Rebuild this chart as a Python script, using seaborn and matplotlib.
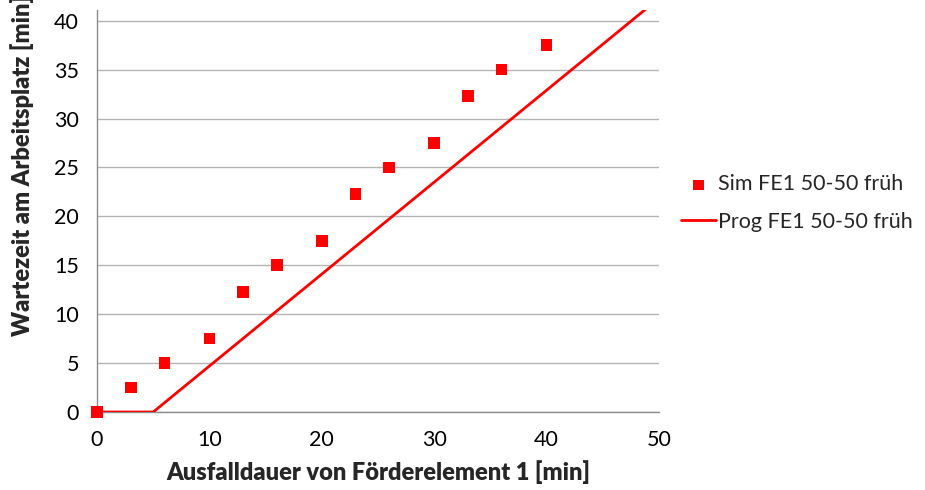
import matplotlib
matplotlib.use("Agg")
import matplotlib.pyplot as plt
from matplotlib.ticker import MultipleLocator
import seaborn as sns
import pandas as pd

# Simulated waiting times
sim_x = [0, 3, 6, 10, 13, 16, 20, 23, 26, 30, 33, 36, 40]
sim_y = [0, 2.5, 5, 7.5, 12.3, 15, 17.5, 22.3, 25, 27.5, 32.3, 35, 37.5]

# Forecast model: no waiting until 5 min, then linear growth
prog_x = [0, 5, 50]
prog_y = [0, 0, 42.3]

sim_label = "Sim FE1 50-50 früh"
prog_label = "Prog FE1 50-50 früh"
x_title = "Ausfalldauer von Förderelement 1 [min]"
y_title = "Wartezeit am Arbeitsplatz [min]"

sns.set_style("white")
plt.rcParams["font.family"] = ["Lato", "DejaVu Sans"]

RED = "#FF0000"
GRID = "#B4B4B4"
AXIS = "#8C8C8C"

fig = plt.figure(figsize=(9.25, 4.9), dpi=100)
ax = fig.add_axes([97 / 925, 1 - 412 / 490, 562 / 925, 402 / 490])

sim = pd.DataFrame({"x": sim_x, "y": sim_y})
prog = pd.DataFrame({"x": prog_x, "y": prog_y})

sns.lineplot(data=prog, x="x", y="y", ax=ax, color=RED, linewidth=2.0,
             label=prog_label, sort=False, zorder=3)
sns.scatterplot(data=sim, x="x", y="y", ax=ax, color=RED, marker="s", s=70,
                edgecolor="none", label=sim_label, zorder=4, clip_on=False)

ax.set_xlim(0, 50)
ax.set_ylim(0, 41.1)
ax.xaxis.set_major_locator(MultipleLocator(10))
ax.xaxis.set_minor_locator(MultipleLocator(5))
ax.yaxis.set_major_locator(MultipleLocator(5))

ax.grid(axis="y", color=GRID, linewidth=1.0)
ax.grid(axis="x", visible=False)
ax.set_axisbelow(True)

for side in ("top", "right"):
    ax.spines[side].set_visible(False)
for side in ("left", "bottom"):
    ax.spines[side].set_color(AXIS)
    ax.spines[side].set_linewidth(1.0)

ax.tick_params(axis="both", which="both", direction="out", color=AXIS,
               length=6, width=1.0, labelsize=15.5, labelcolor="black")
ax.tick_params(axis="x", which="minor", length=6)
ax.tick_params(axis="x", pad=7)
ax.tick_params(axis="y", pad=7)

ax.set_xlabel(x_title, fontsize=17, fontweight="heavy", labelpad=7)
ax.set_ylabel("")
fig.text(22 / 925, 1 - 336 / 490, y_title, rotation=90, ha="center",
         va="bottom", fontsize=17, fontweight="heavy")

handles, labels = ax.get_legend_handles_labels()
order = [labels.index(sim_label), labels.index(prog_label)]
leg = ax.legend([handles[i] for i in order], [labels[i] for i in order],
                loc="center left", bbox_to_anchor=(662 / 925, 1 - 203 / 490),
                bbox_transform=fig.transFigure, frameon=False, fontsize=15.5,
                handlelength=1.6, handletextpad=0.1, labelspacing=0.8,
                markerscale=0.9)

fig.savefig("out.png", dpi=100)
